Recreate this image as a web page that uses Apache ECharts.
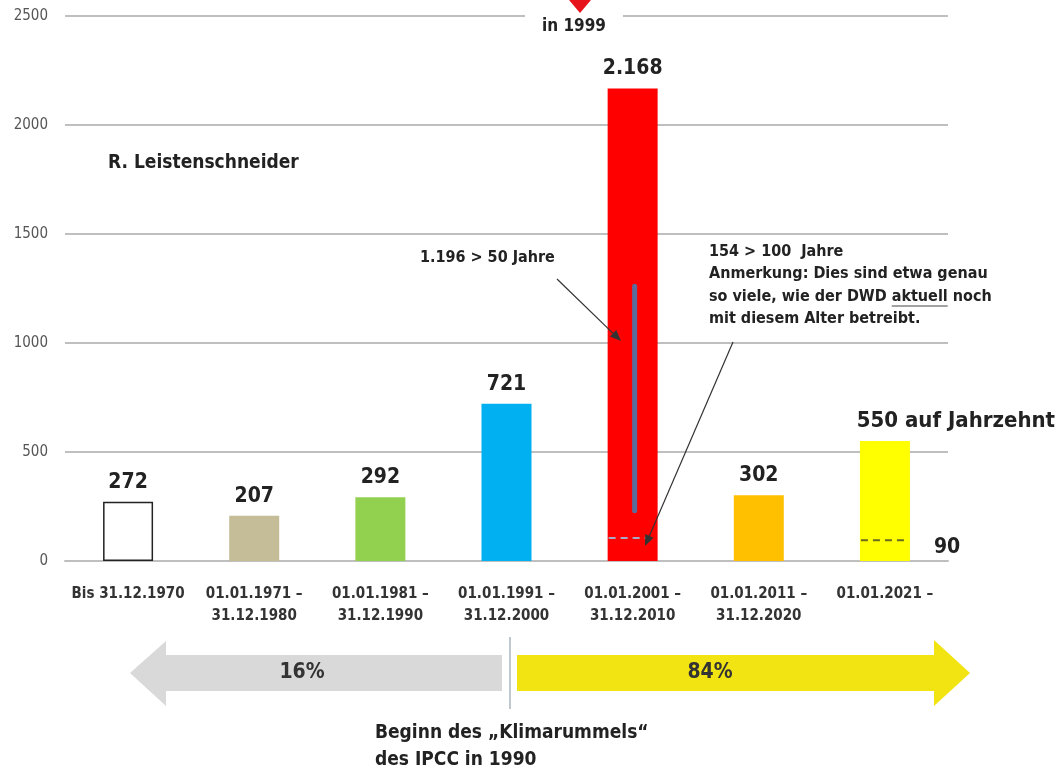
<!DOCTYPE html>
<html>
<head>
<meta charset="utf-8">
<script src="https://cdn.jsdelivr.net/npm/echarts@6/dist/echarts.min.js"></script>
<style>
html,body{margin:0;padding:0;background:#fff;}
#chart{width:1061px;height:774px;}
</style>
</head>
<body>
<div id="chart"></div>
<script>
// ---- data ----
const categories = [
  'Bis 31.12.1970',
  '01.01.1971 –\n31.12.1980',
  '01.01.1981 –\n31.12.1990',
  '01.01.1991 –\n31.12.2000',
  '01.01.2001 –\n31.12.2010',
  '01.01.2011 –\n31.12.2020',
  '01.01.2021 –'
];
const stationCounts = [272, 207, 292, 721, 2168, 302, 550];
const valueLabels = ['272', '207', '292', '721', '2.168', '302', '550 auf Jahrzehnt'];
const barColors = ['#FFFFFF', '#C4BD97', '#92D050', '#00B0F0', '#FF0000', '#FFC000', '#FFFF00'];
const yTickValues = [0, 500, 1000, 1500, 2000, 2500];
// blue range marker inside the 2001-2010 bar: [categoryIndex, top, bottom]
const over50Range = [[4, 1260, 230]];
// dashed markers: [categoryIndex, value]
const dashMarks = [[4, 105], [6, 95]];
const dashLabels = ['', '90'];
const dashColors = ['#A8A8C8', '#6B6B20'];
const shareLabels = ['16%', '84%'];

const FONT = '"DejaVu Sans Condensed", "Liberation Sans", sans-serif';

const chart = echarts.init(document.getElementById('chart'), null, {renderer: 'canvas'});

const measureCtx = document.createElement('canvas').getContext('2d');
function textWidth(txt, font) { measureCtx.font = font; return measureCtx.measureText(txt).width; }

function arrow(x1, y1, x2, y2) {
  const a = Math.atan2(y2 - y1, x2 - x1);
  const L = 11, W = 4.5;
  const bx = x2 - L * Math.cos(a), by = y2 - L * Math.sin(a);
  const px = -Math.sin(a) * W, py = Math.cos(a) * W;
  return [
    {type: 'line', z: 100, zlevel: 1, shape: {x1: x1, y1: y1, x2: bx, y2: by}, style: {stroke: '#333', lineWidth: 1.2}},
    {type: 'polygon', z: 100, zlevel: 1, shape: {points: [[x2, y2], [bx + px, by + py], [bx - px, by - py]]}, style: {fill: '#333'}}
  ];
}

const NOTE_FONT = 'bold 16px ' + FONT;
function noteText(x, y, t) {
  return {type: 'text', z: 52, zlevel: 1, style: {x: x, y: y, text: t, font: NOTE_FONT, fill: '#222', align: 'left', verticalAlign: 'middle'}};
}
const noteX = 709;
const part1 = 'so viele, wie der DWD ';
const part2 = 'aktuell';
const w1 = textWidth(part1, NOTE_FONT);
const w2 = textWidth(part2, NOTE_FONT);

const option = {
  backgroundColor: '#fff',
  animation: false,
  grid: {left: 65, right: 113, top: 16, bottom: 213, containLabel: false},
  xAxis: {
    type: 'category',
    data: categories,
    axisLine: {show: true, lineStyle: {color: '#BFBFBF', width: 2}},
    axisTick: {show: false},
    axisLabel: {
      interval: 0, margin: 22, color: '#333', fontFamily: FONT, fontWeight: 'bold',
      fontSize: 15, lineHeight: 22
    }
  },
  yAxis: {
    type: 'value', min: 0, max: 2500, interval: 500,
    axisLine: {show: false}, axisTick: {show: false},
    axisLabel: {
      margin: 17, color: '#555', fontFamily: FONT, fontSize: 15,
      formatter: function (v) { return yTickValues.indexOf(v) >= 0 ? String(v) : ''; }
    },
    splitLine: {lineStyle: {color: '#BFBFBF', width: 2}}
  },
  series: [
    {
      type: 'bar',
      barWidth: 50,
      data: stationCounts.map(function (v, i) {
        return {
          value: v,
          itemStyle: {
            color: barColors[i],
            borderColor: i === 0 ? '#222' : barColors[i],
            borderWidth: i === 0 ? 1.5 : 0
          },
          label: i === 6 ? {offset: [71, 0], fontSize: 22} : {}
        };
      }),
      label: {
        show: true, position: 'top', distance: 9,
        color: '#222', fontFamily: FONT, fontWeight: 'bold', fontSize: 21,
        formatter: function (p) { return valueLabels[p.dataIndex]; }
      },
      z: 2
    },
    {
      type: 'custom',
      data: over50Range,
      z: 5,
      renderItem: function (params, api) {
        const p1 = api.coord([api.value(0), api.value(1)]);
        const p2 = api.coord([api.value(0), api.value(2)]);
        return {
          type: 'line',
          shape: {x1: p1[0] + 2, y1: p1[1], x2: p2[0] + 2, y2: p2[1]},
          style: {stroke: '#5A6C9C', lineWidth: 5, lineCap: 'round'}
        };
      }
    },
    {
      type: 'custom',
      data: dashMarks,
      z: 5,
      renderItem: function (params, api) {
        const p = api.coord([api.value(0), api.value(1)]);
        const half = 24;
        const i = params.dataIndex;
        const children = [{
          type: 'line',
          shape: {x1: p[0] - half, y1: p[1], x2: p[0] + half, y2: p[1]},
          style: {stroke: dashColors[i], lineWidth: 2, lineDash: [7, 5]}
        }];
        if (dashLabels[i]) {
          children.push({
            type: 'text',
            style: {
              x: p[0] + 49, y: p[1] + 7, text: dashLabels[i], fill: '#222',
              font: 'bold 21px ' + FONT, verticalAlign: 'middle', align: 'left'
            }
          });
        }
        return {type: 'group', children: children};
      }
    }
  ],
  graphic: [
    // top: break in gridline + red arrow tip + "in 1999"
    {type: 'rect', z: 50, shape: {x: 525, y: 8, width: 98, height: 30}, style: {fill: '#fff'}},
    {type: 'polygon', z: 51, shape: {points: [[569, 0], [591, 0], [580, 13]]}, style: {fill: '#E8141B'}},
    {type: 'text', z: 52, style: {x: 574, y: 27, text: 'in 1999', font: 'bold 17px ' + FONT, fill: '#222', align: 'center', verticalAlign: 'middle'}},
    {type: 'text', z: 52, style: {x: 108, y: 163, text: 'R. Leistenschneider', font: 'bold 19px ' + FONT, fill: '#222', align: 'left', verticalAlign: 'middle'}},
    noteText(420, 258, '1.196 > 50 Jahre'),
    noteText(noteX, 252, '154 > 100  Jahre'),
    noteText(noteX, 274, 'Anmerkung: Dies sind etwa genau'),
    noteText(noteX, 297, part1 + part2 + ' noch'),
    {type: 'line', z: 52, zlevel: 1, shape: {x1: noteX + w1, y1: 306, x2: noteX + w1 + w2, y2: 306}, style: {stroke: '#444', lineWidth: 1}},
    noteText(noteX, 319, 'mit diesem Alter betreibt.')
  ].concat(arrow(557, 279, 621, 341), arrow(733, 342, 645, 546), [
    // bottom share arrows
    {type: 'polygon', z: 10, shape: {points: [[130, 673], [166, 641], [166, 655], [502, 655], [502, 691], [166, 691], [166, 706]]}, style: {fill: '#D9D9D9'}},
    {type: 'polygon', z: 10, shape: {points: [[517, 655], [934, 655], [934, 640], [970, 673], [934, 706], [934, 691], [517, 691]]}, style: {fill: '#F2E312'}},
    {type: 'line', z: 10, shape: {x1: 510, y1: 637, x2: 510, y2: 709}, style: {stroke: '#8090A0', lineWidth: 1}},
    {type: 'text', z: 11, style: {x: 302, y: 673, text: shareLabels[0], font: 'bold 21px ' + FONT, fill: '#333', align: 'center', verticalAlign: 'middle'}},
    {type: 'text', z: 11, style: {x: 710, y: 673, text: shareLabels[1], font: 'bold 21px ' + FONT, fill: '#333', align: 'center', verticalAlign: 'middle'}},
    {type: 'text', z: 11, style: {x: 375, y: 733, text: 'Beginn des „Klimarummels“', font: 'bold 19px ' + FONT, fill: '#222', align: 'left', verticalAlign: 'middle'}},
    {type: 'text', z: 11, style: {x: 375, y: 760, text: 'des IPCC in 1990', font: 'bold 19px ' + FONT, fill: '#222', align: 'left', verticalAlign: 'middle'}}
  ])
};
chart.setOption(option);
</script>
</body>
</html>
